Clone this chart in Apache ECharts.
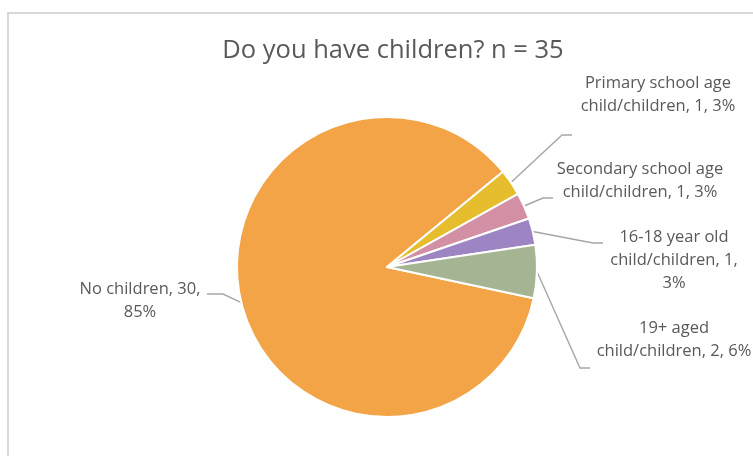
<!DOCTYPE html>
<html>
<head>
<meta charset="utf-8">
<script src="https://cdn.jsdelivr.net/npm/echarts@6/dist/echarts.min.js"></script>
<style>
  html, body { margin: 0; padding: 0; background: #ffffff; }
  #chart { width: 753px; height: 456px; }
</style>
</head>
<body>
<div id="chart"></div>
<script>
// Survey answers: "Do you have children?"
const categories = [
  'No children',
  'Primary school age child/children',
  'Secondary school age child/children',
  '16-18 year old child/children',
  '19+ aged child/children'
];
const counts = [30, 1, 1, 1, 2];
const percentLabels = [85, 3, 3, 3, 6];
const titleText = 'Do you have children? n = 35';

const colors = ['#F3A446', '#E6BD2D', '#D390A4', '#9D84C3', '#A5B593'];

// Where each label text breaks onto a new line
const lineBreaks = [
  ['No children, 30,'],
  ['Primary school age'],
  ['Secondary school age'],
  ['16-18 year old', 'child/children, 1,'],
  ['19+ aged']
];

// Label anchor (centre of text block) and label-line elbow points
const labelPlacement = [
  { x: 140, y: 301, elbow: [223, 294], end: [207, 294] },
  { x: 658, y: 95, elbow: [562, 135], end: [572, 135] },
  { x: 640, y: 181, elbow: [543, 198], end: [553, 198] },
  { x: 674, y: 260, elbow: [593, 243], end: [603, 243] },
  { x: 674, y: 340, elbow: [580, 368], end: [590, 368] }
];

function wrapLabel(idx, text) {
  let out = text;
  lineBreaks[idx].forEach(function (piece) {
    out = out.replace(piece + ' ', piece + '\n');
  });
  return out;
}

const chart = echarts.init(document.getElementById('chart'), null, { renderer: 'canvas' });

chart.setOption({
  animation: false,
  backgroundColor: '#ffffff',
  color: colors,
  title: {
    text: titleText,
    left: 388,
    top: 33,
    textAlign: 'center',
    textStyle: {
      fontFamily: '"Open Sans", Lato, sans-serif',
      fontSize: 25.5,
      fontWeight: 'normal',
      color: '#595959'
    }
  },
  graphic: [{
    type: 'rect',
    shape: { x: 8, y: 13, width: 780, height: 480 },
    style: { fill: 'none', stroke: '#D9D9D9', lineWidth: 2 },
    silent: true
  }],
  series: [{
    type: 'pie',
    center: [387, 267],
    radius: 150,
    startAngle: -12,
    clockwise: true,
    itemStyle: { borderColor: '#ffffff', borderWidth: 2 },
    label: {
      show: true,
      position: 'outside',
      fontFamily: '"Open Sans", Lato, sans-serif',
      fontSize: 16.5,
      lineHeight: 23,
      color: '#595959',
      align: 'center',
      formatter: function (p) {
        const text = p.name + ', ' + p.value + ', ' + percentLabels[p.dataIndex] + '%';
        return wrapLabel(p.dataIndex, text);
      }
    },
    labelLine: {
      show: true,
      length: 20,
      length2: 10,
      lineStyle: { color: '#A6A6A6', width: 1.4 }
    },
    labelLayout: function (params) {
      const spot = labelPlacement[params.dataIndex];
      const start = params.labelLinePoints ? params.labelLinePoints[0] : spot.elbow;
      return {
        x: spot.x,
        y: spot.y,
        align: 'center',
        verticalAlign: 'middle',
        labelLinePoints: [start, spot.elbow, spot.end]
      };
    },
    data: categories.map(function (name, i) {
      return { name: name, value: counts[i] };
    })
  }]
});
</script>
</body>
</html>
